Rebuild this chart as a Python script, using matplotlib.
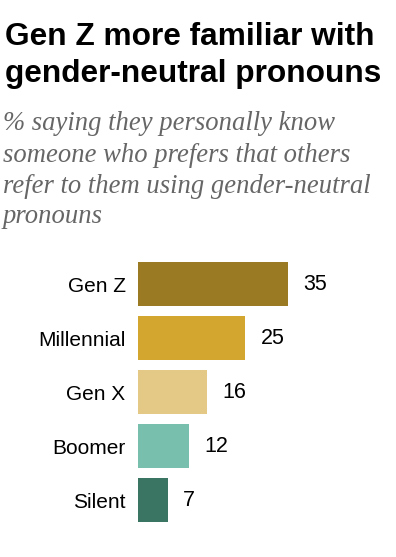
import matplotlib
matplotlib.use("Agg")
import matplotlib.pyplot as plt

# Data
generations = ["Gen Z", "Millennial", "Gen X", "Boomer", "Silent"]
shares = [35, 25, 16, 12, 7]
bar_colors = ["#9A7B23", "#D3A630", "#E3C985", "#78BFAD", "#3A7563"]

title_lines = ["Gen Z more familiar with", "gender-neutral pronouns"]
subtitle_lines = ["% saying they personally know",
                  "someone who prefers that others",
                  "refer to them using gender-neutral",
                  "pronouns"]

W, H = 396, 557
fig = plt.figure(figsize=(W / 100, H / 100), dpi=100)
fig.patch.set_facecolor("white")
renderer = fig.canvas.get_renderer()


def fit_text(x, y_px, s, target_w, **kw):
    t = fig.text(x / W, 1 - y_px / H, s, va="baseline", ha="left", **kw)
    w = t.get_window_extent(renderer).width
    t.set_fontsize(t.get_fontsize() * target_w / w)
    return t


# Title
t1 = fit_text(5, 45, title_lines[0], 368, fontsize=22, fontweight="bold",
              family=["Liberation Sans Narrow", "Liberation Sans", "DejaVu Sans"])
fig.text(5 / W, 1 - 82 / H, title_lines[1], va="baseline", ha="left",
         fontsize=t1.get_fontsize(), fontweight="bold",
         family=["Liberation Sans Narrow", "Liberation Sans", "DejaVu Sans"])

# Subtitle
s2 = fit_text(3, 162, subtitle_lines[1], 348, fontsize=15, style="italic",
              color="#666666", family=["Liberation Serif", "DejaVu Serif"])
for line, yb in zip(subtitle_lines, [130, 162, 193, 223]):
    if line == subtitle_lines[1]:
        continue
    fig.text(3 / W, 1 - yb / H, line, va="baseline", ha="left",
             fontsize=s2.get_fontsize(), style="italic", color="#666666",
             family=["Liberation Serif", "DejaVu Serif"])

# Bars
ax = fig.add_axes([138 / W, 1 - 527 / H, 250 / W, 270 / H])
pos = list(range(len(generations)))
ax.barh(pos, shares, height=0.8, color=bar_colors)
ax.set_ylim(len(generations) - 0.5, -0.5)
ax.set_xlim(0, 250 / 4.29)
ax.set_yticks(pos)
ax.set_yticklabels(generations, fontsize=15, family=["Liberation Sans", "DejaVu Sans"])
ax.tick_params(axis="y", length=0, pad=9)
ax.set_xticks([])
for sp in ax.spines.values():
    sp.set_visible(False)

for p, v in zip(pos, shares):
    ax.annotate(str(v), (v, p), xytext=(11, 0), textcoords="offset points",
                va="center", ha="left", fontsize=15.5,
                family=["Liberation Sans", "DejaVu Sans"])

fig.savefig("out.png", dpi=100, facecolor="white")
